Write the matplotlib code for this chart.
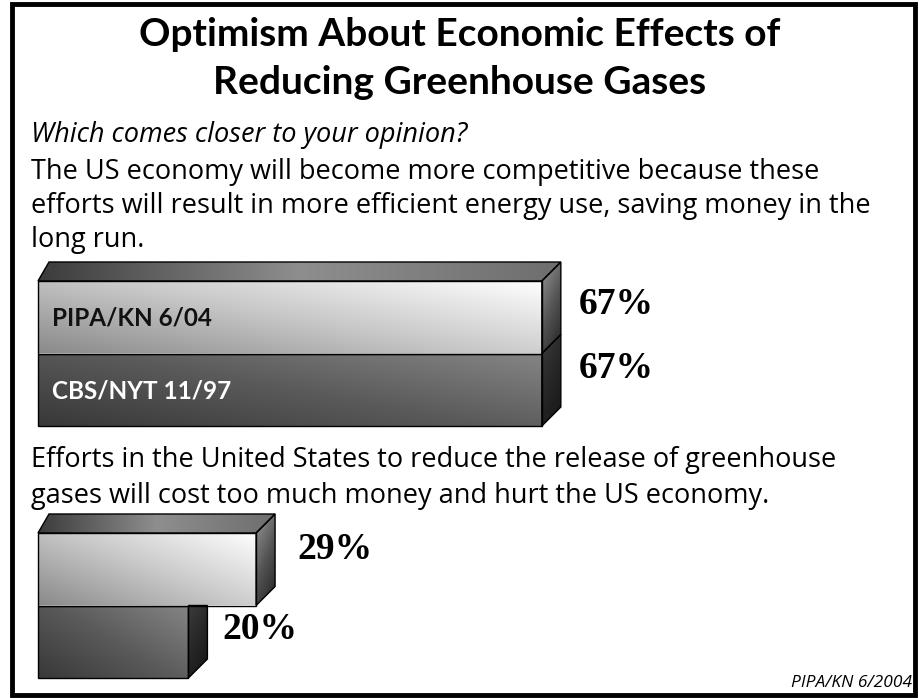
import matplotlib
matplotlib.use("Agg")
import matplotlib.pyplot as plt
import numpy as np
from matplotlib.colors import LinearSegmentedColormap
from matplotlib.patches import Polygon, Rectangle

# survey results, percent
surveys = ["PIPA/KN 6/04", "CBS/NYT 11/97"]
more_competitive = [67, 67]
cost_too_much = [29, 20]

title_lines = ["Optimism About Economic Effects of", "Reducing Greenhouse Gases"]
question = "Which comes closer to your opinion?"
answer_a = ["The US economy will become more competitive because these",
            "efforts will result in more efficient energy use, saving money in the",
            "long run."]
answer_b = ["Efforts in the United States to reduce the release of greenhouse",
            "gases will cost too much money and hurt the US economy."]
source = "PIPA/KN 6/2004"

W, H = 920, 698
X0 = 38            # left edge of the bars, px
PX_PER_PCT = 7.52  # bar length scale
BAR_H = 72.5       # px
DEPTH = 19         # 3d depth, px
DEPTH_L = 11       # left chamfer of the top face, px

fig = plt.figure(figsize=(W / 100, H / 100), dpi=100)
ax = fig.add_axes([0, 0, 1, 1])
ax.axis("off")

# x axis in percent, y axis in pixels from the top
xmin, xmax = -X0 / PX_PER_PCT, (W - X0) / PX_PER_PCT
dx = DEPTH / PX_PER_PCT
dxl = DEPTH_L / PX_PER_PCT

heading = ["Lato", "DejaVu Sans"]
body = ["Open Sans", "DejaVu Sans"]
serif = ["Liberation Serif", "DejaVu Serif"]


def px(x, y):
    return x / W, 1 - y / H


def shade(pts, colors, wx=1.0, wy=0.0):
    """fill a polygon with a linear gradient (wx/wy weight the direction)"""
    pts = np.asarray(pts)
    x0, x1 = pts[:, 0].min(), pts[:, 0].max()
    y0, y1 = pts[:, 1].min(), pts[:, 1].max()
    u, v = np.meshgrid(np.linspace(0, 1, 200), np.linspace(0, 1, 200))
    g = wx * u + wy * v
    g = (g - g.min()) / (g.max() - g.min())
    cmap = LinearSegmentedColormap.from_list("g", colors)
    im = ax.imshow(g, cmap=cmap, extent=(x0, x1, y1, y0), origin="upper",
                   aspect="auto", interpolation="bilinear", zorder=1)
    patch = Polygon(pts, closed=True, fc="none", ec="black", lw=1.0, zorder=2)
    ax.add_patch(patch)
    im.set_clip_path(patch)


def bar_group(values, top, names, label_dx, label_dy):
    for i, v in enumerate(values):
        t = top + i * BAR_H
        b = t + BAR_H
        light = i == 0
        if light:
            shade([(0, t), (dxl, t - DEPTH), (v + dx, t - DEPTH), (v, t)],
                  ["#3c3c3c", "#8e8e8e", "#6e6e6e"], wx=1.0)
            front = ["#8a8a8a", "#c8c8c8", "#ffffff"]
            side = ["#9a9a9a", "#555555", "#222222"]
            side_top = t - DEPTH
        else:
            front = ["#383838", "#5a5a5a", "#858585"]
            side = ["#3c3c3c", "#262626", "#151515"]
            # a shorter bar tucks its side under the bar above
            side_top = t - DEPTH if v >= values[i - 1] else t
        shade([(0, t), (v, t), (v, b), (0, b)], front, wx=1.0, wy=-0.8)
        shade([(v, t), (v + dx, side_top), (v + dx, b - DEPTH), (v, b)],
              side, wx=0.5, wy=1.0)
        ax.text(v + dx + label_dx[i], (t + b) / 2 + label_dy[i], f"{v}%",
                fontsize=27, fontweight="bold", family=serif,
                va="center", ha="left", zorder=5)
        if names:
            ax.text(14 / PX_PER_PCT, (t + b) / 2 + 1, names[i], fontsize=17.5,
                    fontweight="bold", family=heading, va="center",
                    color="#111111" if light else "white", zorder=5)


bar_group(more_competitive, 281, surveys, label_dx=[2.4, 2.4], label_dy=[-13, -21])
bar_group(cost_too_much, 533, None, label_dx=[2.9, 2.0], label_dy=[-20, -12])

ax.set_xlim(xmin, xmax)
ax.set_ylim(H, 0)

# text blocks
for line, y in zip(title_lines, [46, 94]):
    fig.text(*px(460, y), line, fontsize=28, fontweight="bold", family=heading,
             ha="center", va="baseline")
fig.text(*px(31, 142), question, fontsize=19.5, style="italic", family=body,
         va="baseline")
for line, y in zip(answer_a, [179, 213, 247]):
    fig.text(*px(31, y), line, fontsize=19.5, family=body, va="baseline")
for line, y in zip(answer_b, [467, 503]):
    fig.text(*px(31, y), line, fontsize=19.5, family=body, va="baseline")
fig.text(*px(912, 687), source, fontsize=12.5, style="italic", family=body,
         ha="right", va="baseline")

# frame
fig.patches.append(Rectangle((11.5 / W, 3 / H), 904 / W, 691 / H, transform=fig.transFigure,
                             fill=False, ec="black", lw=3.5))

fig.savefig("out.png", dpi=100, facecolor="white")
